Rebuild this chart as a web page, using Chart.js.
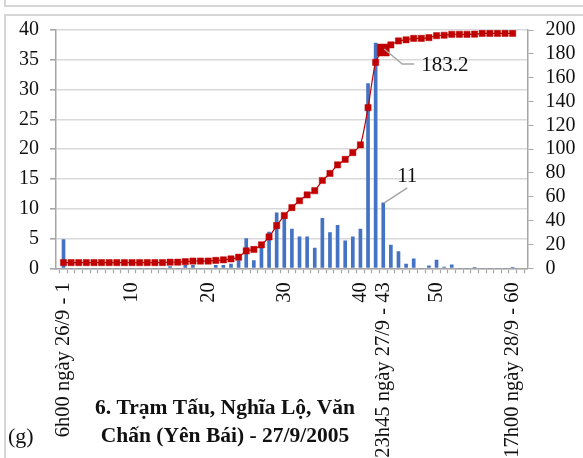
<!DOCTYPE html>
<html>
<head>
<meta charset="utf-8">
<script src="https://cdn.jsdelivr.net/npm/chart.js@4.4.1/dist/chart.umd.min.js"></script>
<style>
  html, body { margin: 0; padding: 0; background: #fff; }
  canvas { display: block; }
</style>
</head>
<body>
<canvas id="chart" width="583" height="458"></canvas>
<script>
// chart values
const categories = [1,2,3,4,5,6,7,8,9,10,11,12,13,14,15,16,17,18,19,20,
  21,22,23,24,25,26,27,28,29,30,31,32,33,34,35,36,37,38,39,40,
  41,42,43,44,45,46,47,48,49,50,51,52,53,54,55,56,57,58,59,60];

// rainfall per interval (left axis, mm)
const rain = [4.8,0,0,0,0,0,0,0,0,0,0,0,0,0,0.3,0,0.5,0.5,0,0,
  0.5,0.5,0.7,1.3,5.0,1.3,3.6,6.1,9.3,8.4,6.6,5.3,5.3,3.4,8.4,6.0,7.2,4.6,5.3,6.6,
  31.0,37.8,11.0,3.9,2.8,0.7,1.6,0,0.4,1.4,0.2,0.6,0,0,0.1,0,0,0,0,0.1];

// cumulative rainfall (right axis, mm)
const cumulative = [4.8,4.8,4.8,4.8,4.8,4.8,4.8,4.8,4.8,4.8,4.8,4.8,4.8,4.8,5.1,5.1,5.6,6.1,6.1,6.1,
  6.6,7.1,7.9,9.3,14.6,15.8,19.7,26.3,35.8,44.3,51.0,56.7,61.6,65.1,73.7,79.6,86.8,91.4,97.1,103.6,
  134.8,172.8,183.2,187.5,190.8,191.8,193.0,193.0,193.6,195.2,195.6,196.4,196.4,196.4,196.5,197.1,197.1,197.1,197.1,197.2];

const labeledCats = [1, 10, 20, 30, 40, 43, 50, 60];
const tickLabels = ["6h00 ngày 26/9 - 1", "10", "20", "30", "40", "23h45 ngày 27/9 - 43", "50", "17h00 ngày 28/9 - 60"];

const peakCat = 43;
const peakLabel = "183.2";
const barLabelCat = 43;
const barLabel = "11";

const titleLines = ["6. Trạm Tấu, Nghĩa Lộ, Văn", "Chấn (Yên Bái) - 27/9/2005"];
const panelTag = "(g)";

const SERIF = "'Liberation Serif', 'Times New Roman', serif";
const RED = "#c00000";
const BLUE = "#4472c4";
const AXIS = "#a6a6a6";
const GRID = "#d9d9d9";

// frame of the figure panels
const framePlugin = {
  id: 'frame',
  beforeDraw(chart) {
    const ctx = chart.ctx;
    ctx.save();
    ctx.strokeStyle = "#d6d6d6";
    ctx.lineWidth = 2;
    ctx.beginPath();
    ctx.moveTo(5, 0); ctx.lineTo(5, 6); ctx.lineTo(583, 6);
    ctx.moveTo(5, 458); ctx.lineTo(5, 15); ctx.lineTo(583, 15);
    ctx.stroke();
    ctx.restore();
  }
};

// leader lines + data labels, title
const notesPlugin = {
  id: 'notes',
  afterDraw(chart) {
    const ctx = chart.ctx;
    const x = chart.scales.x, y = chart.scales.y, y1 = chart.scales.y1;
    ctx.save();
    ctx.strokeStyle = "#a6a6a6";
    ctx.lineWidth = 1.5;
    ctx.fillStyle = "#111";

    // 183.2 on the cumulative line
    let px = x.getPixelForValue(peakCat);
    let py = y1.getPixelForValue(cumulative[peakCat - 1]);
    ctx.beginPath();
    ctx.moveTo(px + 1, py - 1);
    ctx.lineTo(px + 19, py + 14);
    ctx.lineTo(px + 31, py + 14);
    ctx.stroke();
    ctx.font = "21px " + SERIF;
    ctx.textAlign = "left";
    ctx.textBaseline = "middle";
    ctx.fillText(peakLabel, px + 38, py + 15);

    // 11 on the bar
    px = x.getPixelForValue(barLabelCat);
    py = y.getPixelForValue(rain[barLabelCat - 1]);
    ctx.beginPath();
    ctx.moveTo(px + 1, py);
    ctx.lineTo(px + 24, py - 15);
    ctx.stroke();
    ctx.textAlign = "center";
    ctx.textBaseline = "alphabetic";
    ctx.fillText(barLabel, px + 24, py - 21);

    // title
    ctx.font = "bold 21.5px " + SERIF;
    ctx.textAlign = "center";
    ctx.textBaseline = "middle";
    ctx.fillText(titleLines[0], 225, 408);
    ctx.fillText(titleLines[1], 225, 436);

    ctx.font = "22px " + SERIF;
    ctx.textAlign = "left";
    ctx.fillText(panelTag, 8, 437);
    ctx.restore();
  }
};

const radii = categories.map(c => c === peakCat ? 8.5 : 4.4);

const ctx = document.getElementById('chart');
new Chart(ctx, {
  type: 'bar',
  data: {
    datasets: [{
      type: 'line',
      label: 'cumulative',
      data: categories.map((c, i) => ({ x: c, y: cumulative[i] })),
      yAxisID: 'y1',
      borderColor: RED,
      borderWidth: 1.2,
      backgroundColor: RED,
      pointStyle: 'rect',
      pointRadius: radii,
      pointBorderWidth: 0.5,
      pointBorderColor: RED,
      pointBackgroundColor: RED,
      tension: 0.25,
      order: 0
    }, {
      label: 'rain',
      data: categories.map((c, i) => ({ x: c, y: rain[i] })),
      yAxisID: 'y',
      backgroundColor: BLUE,
      borderWidth: 0,
      barThickness: 3,
      order: 1
    }]
  },
  options: {
    responsive: false,
    animation: false,
    layout: { padding: { left: 0, right: 0, top: 30, bottom: 0 } },
    plugins: {
      legend: { display: false },
      tooltip: { enabled: false }
    },
    scales: {
      x: {
        type: 'linear',
        min: 0.52,
        max: 61.44,
        afterBuildTicks(scale) {
          const t = [];
          for (let v = 1; v <= 61; v++) t.push({ value: v });
          scale.ticks = t;
        },
        afterFit(scale) { scale.height = 458 - 268.3; },
        grid: {
          drawOnChartArea: false,
          drawTicks: true,
          tickLength: 5,
          tickColor: AXIS,
          tickWidth: 1.2
        },
        border: { color: AXIS, width: 1.5 },
        ticks: {
          autoSkip: false,
          minRotation: 90,
          maxRotation: 90,
          padding: 9,
          color: "#111",
          font: { family: SERIF, size: 20.5 },
          callback(v) {
            const k = labeledCats.indexOf(v);
            return k >= 0 ? tickLabels[k] : '';
          }
        }
      },
      y: {
        position: 'left',
        min: 0,
        max: 40,
        afterFit(scale) { scale.width = 56; },
        grid: {
          color: GRID,
          lineWidth: 1.6,
          tickColor: AXIS,
          tickLength: 6
        },
        border: { color: AXIS, width: 1.5 },
        ticks: {
          stepSize: 5,
          autoSkip: false,
          padding: 11,
          color: "#111",
          font: { family: SERIF, size: 20 }
        }
      },
      y1: {
        position: 'right',
        min: 0,
        max: 200,
        afterFit(scale) { scale.width = 583 - 527.5; },
        grid: {
          drawOnChartArea: false,
          tickColor: AXIS,
          tickLength: 6
        },
        border: { color: AXIS, width: 1.5 },
        ticks: {
          stepSize: 20,
          autoSkip: false,
          padding: 12,
          color: "#111",
          font: { family: SERIF, size: 20 }
        }
      }
    }
  },
  plugins: [framePlugin, notesPlugin]
});
</script>
</body>
</html>
